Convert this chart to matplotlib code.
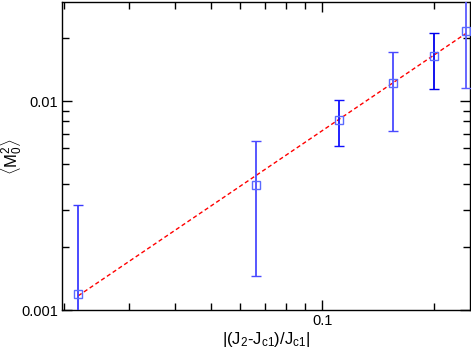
import matplotlib
matplotlib.use('Agg')
import matplotlib.pyplot as plt
from matplotlib.ticker import LogLocator, NullFormatter, FixedLocator, FixedFormatter

plt.rcParams['font.family'] = ['Liberation Sans', 'DejaVu Sans']
plt.rcParams['mathtext.fontset'] = 'custom'
plt.rcParams['mathtext.rm'] = 'Liberation Sans'
plt.rcParams['mathtext.it'] = 'Liberation Sans'

# data
dj = [0.0219, 0.0663, 0.1107, 0.1553, 0.2000, 0.2447]
m2 = [0.00120, 0.00395, 0.00808, 0.0122, 0.01636, 0.02156]
err_hi = [0.00320, 0.00644, 0.01008, 0.0171, 0.0213, 0.0400]
err_lo = [0.00090, 0.00146, 0.00609, 0.00719, 0.01138, 0.01158]

# fitted power law, endpoints
fit_x = [0.0219, 0.2447]
fit_y = [0.00117, 0.0211]

bar_colors = ['#3a3aff', '#4a4aff', '#1010ff', '#4a4aff', '#0000ee', '#5a5aff']

fig = plt.figure(figsize=(4.71, 3.48), dpi=100)
ax = fig.add_axes([0.1316, 0.109, 0.8664, 0.885])

ax.plot(fit_x, fit_y, color='red', linestyle=(0, (3, 2)), linewidth=1.0, zorder=2)

for x, y, hi, lo, c in zip(dj, m2, err_hi, err_lo, bar_colors):
    ax.errorbar([x], [y], yerr=[[y - lo], [hi - y]], fmt='s', color=c,
                markerfacecolor='none', markeredgecolor='#5a6aff', markersize=6,
                markeredgewidth=1.0, elinewidth=1.3, capsize=3.5, capthick=1.3, zorder=3)

ax.set_xscale('log')
ax.set_yscale('log')
ax.set_xlim(0.0198, 0.251)
ax.set_ylim(0.001, 0.0298)

ax.xaxis.set_major_locator(FixedLocator([0.1]))
ax.xaxis.set_major_formatter(FixedFormatter(['0.1']))
ax.xaxis.set_minor_locator(LogLocator(base=10, subs=range(2, 10)))
ax.xaxis.set_minor_formatter(NullFormatter())
ax.yaxis.set_major_locator(FixedLocator([0.001, 0.01]))
ax.yaxis.set_major_formatter(FixedFormatter(['0.001', '0.01']))
ax.yaxis.set_minor_locator(LogLocator(base=10, subs=range(2, 10)))
ax.yaxis.set_minor_formatter(NullFormatter())

ax.tick_params(which='both', direction='in', top=True, right=True, labelsize=10.5, width=1.0)
ax.tick_params(which='major', length=7, pad=3)
ax.tick_params(which='minor', length=5)
for s in ax.spines.values():
    s.set_linewidth(1.0)

ax.set_xlabel(r'$|(\mathrm{J_2}$-$\mathrm{J_{c1}})/\mathrm{J_{c1}}|$', fontsize=12)
ax.xaxis.set_label_coords(0.5, -0.065, transform=ax.transAxes)
ax.xaxis.label.set_va('top')
ax.set_ylabel(r'$\langle\mathrm{M_0^2}\rangle$', fontsize=12)
ax.yaxis.set_label_coords(-0.094, 0.5)

fig.savefig('out.png', dpi=100)
